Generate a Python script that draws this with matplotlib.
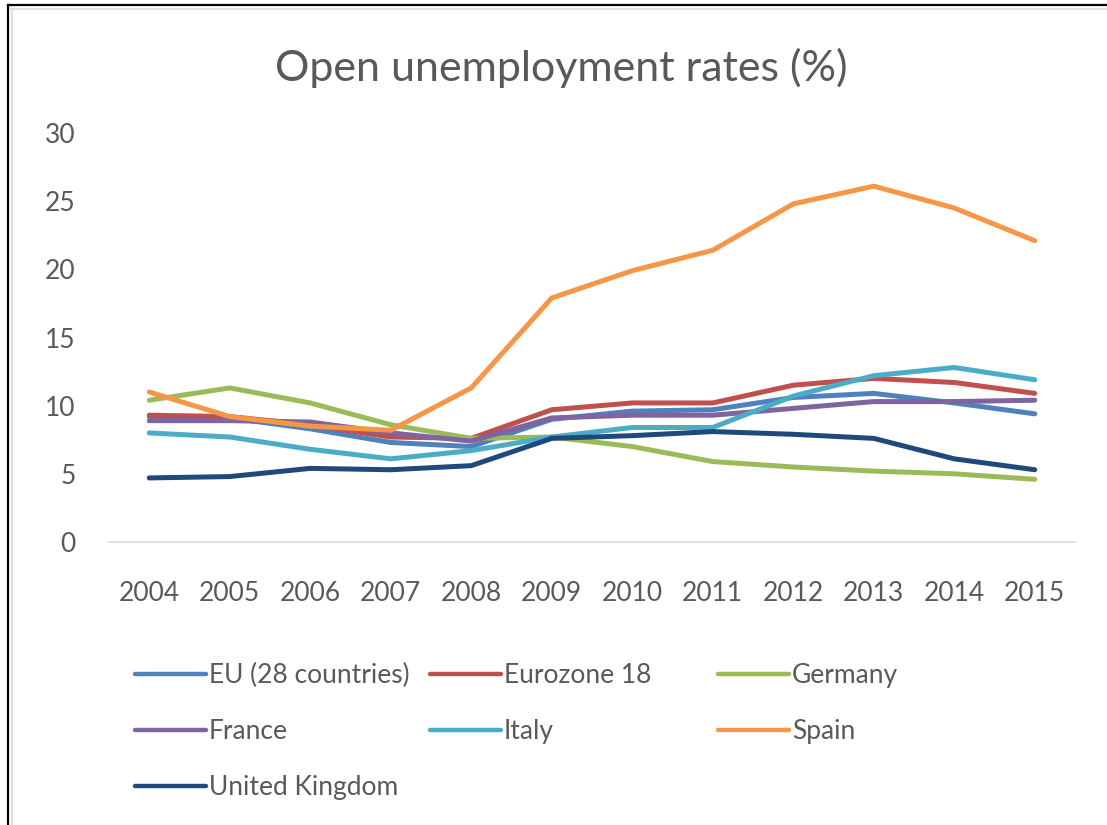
import matplotlib.pyplot as plt
from matplotlib.lines import Line2D

plt.rcParams['font.family'] = ['Lato', 'DejaVu Sans']

# date
ani = ['2004', '2005', '2006', '2007', '2008', '2009', '2010', '2011', '2012', '2013', '2014', '2015']
eu28 = [9.2, 9.1, 8.3, 7.3, 7.0, 9.0, 9.6, 9.7, 10.6, 10.9, 10.2, 9.4]
eurozona = [9.3, 9.2, 8.6, 7.7, 7.6, 9.7, 10.2, 10.2, 11.5, 12.0, 11.7, 10.9]
germania = [10.4, 11.3, 10.2, 8.6, 7.6, 7.7, 7.0, 5.9, 5.5, 5.2, 5.0, 4.6]
franta = [8.9, 8.9, 8.8, 8.0, 7.4, 9.1, 9.3, 9.3, 9.8, 10.3, 10.3, 10.4]
italia = [8.0, 7.7, 6.8, 6.1, 6.7, 7.7, 8.4, 8.4, 10.7, 12.2, 12.8, 11.9]
spania = [11.0, 9.2, 8.5, 8.2, 11.3, 17.9, 19.9, 21.4, 24.8, 26.1, 24.5, 22.1]
uk = [4.7, 4.8, 5.4, 5.3, 5.6, 7.6, 7.8, 8.1, 7.9, 7.6, 6.1, 5.3]

etichete = ['EU (28 countries)', 'Eurozone 18', 'Germany', 'France', 'Italy', 'Spain', 'United Kingdom']
serii = [eu28, eurozona, germania, franta, italia, spania, uk]
culori = ['#4F81BD', '#C0504D', '#9BBB59', '#8064A2', '#4BACC6', '#F79646', '#1F497D']

gri = '#595959'

fig = plt.figure(figsize=(11.07, 8.25), dpi=100)
ax = fig.add_axes([109/1107, 1-542/825, (1075-109)/1107, (542-133)/825])

linii = []
for s, c, et in zip(serii, culori, etichete):
    l, = ax.plot(range(len(ani)), s, color=c, lw=3.6, label=et, solid_capstyle='round')
    linii.append(l)

ax.set_xlim(-0.5, len(ani) - 0.5)
ax.set_ylim(0, 30)
ax.set_yticks(range(0, 31, 5))
ax.set_xticks(range(len(ani)))
ax.set_xticklabels(ani)
for sp in ['top', 'right', 'left']:
    ax.spines[sp].set_visible(False)
ax.spines['bottom'].set_color('#d9d9d9')
ax.spines['bottom'].set_linewidth(1.2)
ax.tick_params(axis='x', length=0, pad=28, labelsize=19, labelcolor=gri)
ax.tick_params(axis='y', length=0, pad=24, labelsize=19, labelcolor=gri)

fig.text(561/1107, 1-68/825, 'Open unemployment rates (%)', ha='center', va='center',
         fontsize=31, color=gri)

# legenda pe coloane
coloane = [[0, 3, 6], [1, 4], [2, 5]]
x_col = [135, 430, 718]
for idx, xc in zip(coloane, x_col):
    leg = fig.legend([linii[i] for i in idx], [etichete[i] for i in idx],
                     loc='upper left', bbox_to_anchor=(xc/1107, 1-663/825),
                     frameon=False, fontsize=19, handlelength=2.7, handletextpad=0.1,
                     labelspacing=1.17, borderaxespad=0, borderpad=0)
    for t in leg.get_texts():
        t.set_color(gri)
    for h in leg.legend_handles:
        h.set_linewidth(3.2)

# chenar
fig.add_artist(Line2D([8/1107, 1], [1-5/825, 1-5/825], color='black', lw=1.6, transform=fig.transFigure))
fig.add_artist(Line2D([8/1107, 8/1107], [0, 1-5/825], color='black', lw=1.6, transform=fig.transFigure))
fig.add_artist(Line2D([11/1107, 1], [1-9/825, 1-9/825], color='#e0e0e0', lw=1.5, transform=fig.transFigure))
fig.add_artist(Line2D([12/1107, 12/1107], [0, 1-9/825], color='#e0e0e0', lw=1.5, transform=fig.transFigure))

fig.savefig('out.png', dpi=100)
